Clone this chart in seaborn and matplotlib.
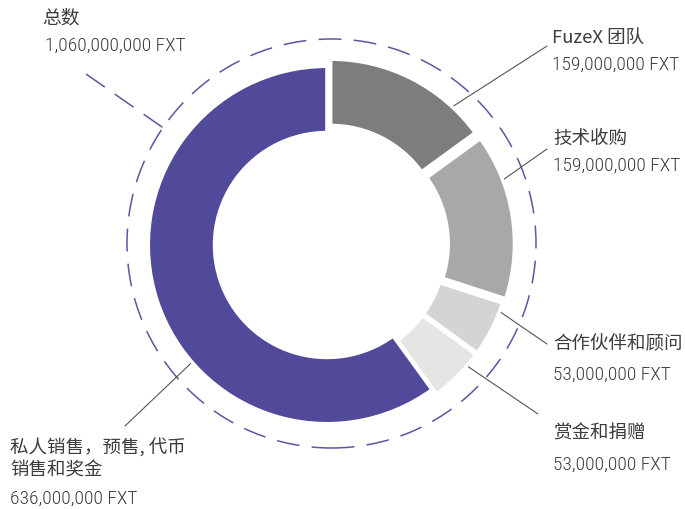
import numpy as np
import matplotlib
matplotlib.use("Agg")
import matplotlib.pyplot as plt
import seaborn as sns
from matplotlib import font_manager
from matplotlib.patches import Circle

# ---------------- data ----------------
categories = ["FuzeX 团队", "技术收购", "合作伙伴和顾问", "赏金和捐赠",
              "私人销售，预售, 代币\n销售和奖金"]
amounts = [159_000_000, 159_000_000, 53_000_000, 53_000_000, 636_000_000]
unit = "FXT"
total_label = "总数"
colors = ["#7c7d7f", "#a7a8aa", "#d3d4d5", "#e5e5e3", "#514a9a"]

# ---------------- style ----------------
sns.set_theme(style="white")
cjk = ["Noto Sans CJK SC", "DejaVu Sans"]
plt.rcParams["font.family"] = cjk

names = {f.name for f in font_manager.fontManager.ttflist}
if "Liberation Sans Narrow" in names:
    num_font, num_size = ["Liberation Sans Narrow", "DejaVu Sans"], 14
elif "Roboto Condensed" in names:
    num_font, num_size = ["Roboto Condensed", "DejaVu Sans"], 14
else:
    num_font, num_size = ["Roboto", "DejaVu Sans"], 11.6

W, H = 685, 510
CX, CY, R = 327, 246, 177  # pie centre & outer radius in pixels


def P(x, y):
    """pixel (from top-left) -> data coords"""
    return ((x - CX) / R, (CY - y) / R)


fig = plt.figure(figsize=(W / 100, H / 100), dpi=100)
ax = fig.add_axes([0, 0, 1, 1])

explode = [0.045, 0.05, 0.035, 0.035, 0.0]
wedges, _ = ax.pie(amounts, colors=colors, startangle=90, counterclock=False,
                   radius=1.01, explode=explode,
                   wedgeprops=dict(width=0.375, edgecolor="white", linewidth=2.6))

ax.set_aspect("auto")
x0, y1 = P(0, 0)
x1, y0 = P(W, H)
ax.set_xlim(x0, x1)
ax.set_ylim(y0, y1)
ax.axis("off")

# dashed outer ring
dash_col = "#5b57a0"
cc = P(331.5, 244.5)
ax.add_patch(Circle(cc, 204.5 / R, fill=False, edgecolor=dash_col,
                    linewidth=1.1, linestyle=(0, (15, 8))))

txt_col = "#3c3c3c"
# total label with dashed leader
ang_t = np.deg2rad(145.5)
tp = (cc[0] + 204.5 / R * np.cos(ang_t), cc[1] + 204.5 / R * np.sin(ang_t))
tl = P(86, 75)
ax.plot([tl[0], tp[0]], [tl[1], tp[1]], color=dash_col, lw=1.1,
        linestyle=(0, (15, 8)))
ax.text(*P(42, 18), total_label, fontsize=13.5, color=txt_col,
        va="center", ha="left", family=cjk, fontweight="light")
ax.text(*P(45, 46), f"{sum(amounts):,} {unit}", fontsize=num_size,
        color=txt_col, va="center", ha="left", family=num_font,
        fontweight="light")

# leader lines & labels
anchor_deg = [47, 21, -21, -40.6, 221]
line_end = [(547, 47), (547, 150), (547, 345), (538, 415), (125, 427)]
name_pos = [(552, 38), (553, 139), (553, 344), (553, 434), (10, 459)]
val_pos = [(552, 65), (553, 166), (553, 375), (553, 465), (10, 499)]

for w, a, e, npos, vpos, cat, amt in zip(wedges, anchor_deg, line_end,
                                         name_pos, val_pos, categories, amounts):
    a = np.deg2rad(a)
    c = w.center
    s = (c[0] + 1.02 * np.cos(a), c[1] + 1.02 * np.sin(a))
    ex, ey = P(*e)
    ax.plot([s[0], ex], [s[1], ey], color="#555555", lw=0.8)
    weight = "medium" if cat.startswith("FuzeX") else "light"
    ax.text(*P(*npos), cat, fontsize=13.3, color=txt_col, va="center",
            ha="left", family=cjk, linespacing=1.35, fontweight=weight)
    ax.text(*P(*vpos), f"{amt:,} {unit}", fontsize=num_size, color=txt_col,
            va="center", ha="left", family=num_font, fontweight="light")

fig.savefig("out.png", dpi=100, facecolor="white")
